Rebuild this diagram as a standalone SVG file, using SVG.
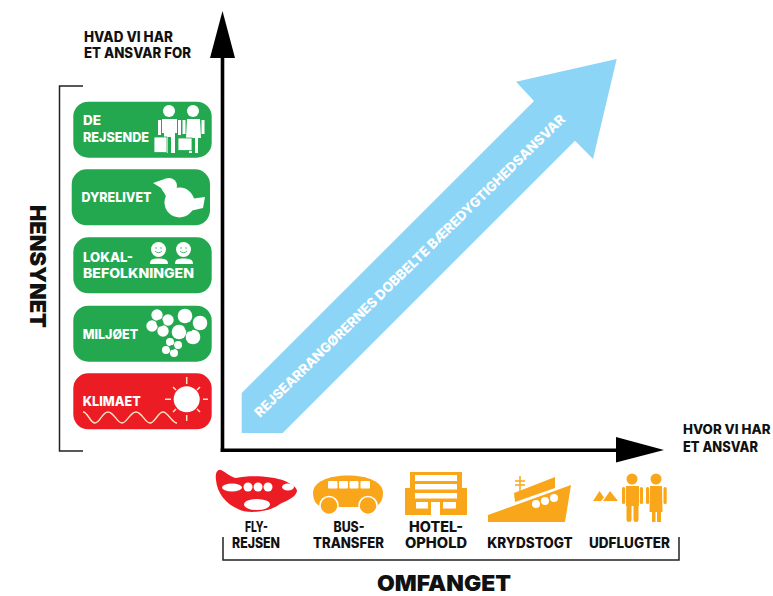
<svg xmlns="http://www.w3.org/2000/svg" width="773" height="596" viewBox="0 0 773 596">
<style>
text{font-family:"Inter","Open Sans","Liberation Sans",sans-serif;font-weight:800}
.k{fill:#111}
.w{fill:#fff}
.h{font-weight:900}
.s{font-size:14px}
.n{font-size:13.500px;fill:#fff}
.g{fill:#23a84f}
.r{fill:#ec1c24}
.o{fill:#faa61a}
.i{fill:#fff}
.c{text-anchor:middle;font-size:14px;fill:#111}
.br{fill:none;stroke:#222;stroke-width:1.500}
</style>
<rect width="773" height="596" fill="#fff"/>
<g id="trend-arrow">
<path d="M241.700 393L534 101L516 81.700L616.700 59L593 159L575 140.700L282.700 433H241.700Z" fill="#8dd5f7"/>
<text transform="translate(260 418) rotate(-44.2)" class="w" font-size="13.500" textLength="427" lengthAdjust="spacing">REJSEARRANGØRERNES DOBBELTE BÆREDYGTIGHEDSANSVAR</text>
</g>
<g id="connectors">
<path d="M222.500 452V50M220.500 450.300H625" stroke="#000" stroke-width="3.600" fill="none"/>
<path d="M222.500 11L235 58H210Z" fill="#000"/>
<path d="M664 450L616 437V462.500Z" fill="#000"/>
<path class="br" d="M83 86H59.500V451H83"/>
<path class="br" d="M223 537V560H679V537"/>
</g>
<g id="axis-labels">
<text class="k s" x="84" y="41.500" textLength="89" lengthAdjust="spacingAndGlyphs">HVAD VI HAR</text>
<text class="k s" x="84" y="57.500" textLength="107" lengthAdjust="spacingAndGlyphs">ET ANSVAR FOR</text>
<text class="k" font-size="13" x="683" y="434" textLength="87.500" lengthAdjust="spacingAndGlyphs">HVOR VI HAR</text>
<text class="k s" x="683" y="451.500" textLength="75" lengthAdjust="spacingAndGlyphs">ET ANSVAR</text>
<text class="k h" font-size="22" transform="translate(30 205) rotate(90)" textLength="123" lengthAdjust="spacingAndGlyphs">HENSYNET</text>
<text class="k h" font-size="22" x="377" y="591" textLength="134" lengthAdjust="spacingAndGlyphs">OMFANGET</text>
</g>
<g id="de-rejsende">
<rect class="g" x="73.300" y="101.700" width="138.400" height="56" rx="15"/>
<text class="n" x="83" y="125" textLength="18" lengthAdjust="spacingAndGlyphs">DE</text><text class="n" x="83" y="141.500" textLength="66" lengthAdjust="spacingAndGlyphs">REJSENDE</text>
<g class="i">
<circle cx="169" cy="111" r="6"/><path d="M162 119H177V133H175V153H171V137H168V153H164V133H162Z"/>
<rect x="158" y="120" width="3" height="15"/><rect x="178" y="120" width="3" height="15"/>
<circle cx="193" cy="111" r="6"/><path d="M187 119H200L201 138H198V153H195V138H192V153H189V138H186Z"/>
<rect x="182.500" y="120" width="3" height="14"/><rect x="201.500" y="120" width="3" height="14"/>
</g>
<rect class="i" x="154" y="137" width="13" height="15.500" stroke="#23a84f" stroke-width=".8"/>
<rect class="i" x="178" y="138" width="14" height="12.500" stroke="#23a84f" stroke-width=".8"/>
</g>
<g id="dyrelivet">
<rect class="g" x="71.700" y="169.300" width="138.300" height="56" rx="15"/>
<text class="n" x="81.500" y="201.700" textLength="70" lengthAdjust="spacingAndGlyphs">DYRELIVET</text>
<g class="i">
<circle cx="179.500" cy="202.500" r="15"/>
<circle cx="169" cy="186" r="8"/>
<path d="M153 183L166 178.500V191ZM162 189L176 188L190 197L168 200ZM190 199L205 197L203 208L190 211Z"/>
</g>
</g>
<g id="lokalbefolkningen">
<rect class="g" x="73.300" y="237.300" width="138.400" height="56" rx="15"/>
<text class="n" x="83" y="261.500" textLength="50" lengthAdjust="spacingAndGlyphs">LOKAL-</text><text class="n" x="83" y="278" textLength="111" lengthAdjust="spacingAndGlyphs">BEFOLKNINGEN</text>
<g class="i">
<circle cx="158.500" cy="249.500" r="7.500"/><path d="M150 264C150 259 153 258.500 158.500 258.500C164 258.500 168 259 168 264Z"/>
<circle cx="183.500" cy="249.500" r="7.500"/><path d="M175 264C175 259 178 258.500 183.500 258.500C189 258.500 193 259 193 264Z"/>
</g>
<path d="M155 251Q158.500 254.500 162 251M180 251Q183.500 254.500 187 251" fill="none" stroke="#23a84f" stroke-width=".8"/>
<g fill="#23a84f"><circle cx="156" cy="248" r=".7"/><circle cx="161" cy="248" r=".7"/><circle cx="181" cy="248" r=".7"/><circle cx="186" cy="248" r=".7"/></g>
</g>
<g id="miljoet">
<rect class="g" x="73.300" y="305.700" width="138.400" height="56" rx="15"/>
<text class="n" x="82.700" y="338.500" textLength="55.500" lengthAdjust="spacingAndGlyphs">MILJØET</text>
<g class="i">
<circle cx="157" cy="315" r="5.700"/><circle cx="168" cy="320" r="5.700"/><circle cx="152" cy="326" r="5.700"/><circle cx="163" cy="331" r="5.700"/>
<circle cx="185" cy="316" r="7.300"/><circle cx="200" cy="323" r="7.300"/><circle cx="179" cy="332" r="7.300"/><circle cx="193" cy="337" r="7.300"/>
<circle cx="170" cy="342" r="4"/><circle cx="178" cy="345" r="4"/><circle cx="166" cy="350" r="4"/><circle cx="174" cy="353" r="4"/>
</g>
<g fill="#23a84f"><circle cx="160" cy="323" r="3.500"/><circle cx="189" cy="327" r="4.500"/><circle cx="172" cy="347.500" r="2.500"/></g>
</g>
<g id="klimaet">
<rect class="r" x="73.300" y="373.300" width="138.400" height="56" rx="15"/>
<text class="n" x="82.700" y="406" textLength="58" lengthAdjust="spacingAndGlyphs">KLIMAET</text>
<circle class="i" cx="186.700" cy="399.300" r="13"/>
<path d="M186.700 377V384M186.700 415V421M165 399.300H171M203 399.300H208M173 387L176 390M200 387L197 390M173 412L176 409M200 412L197 409" stroke="#fde3c0" stroke-width="1.500" fill="none"/>
<path d="M83 412C88 412 90 423 95 423S102 412 108 412S117 423 122 423S130 412 136 412S145 423 150 423S158 412 163 412S172 423 177 423" fill="none" stroke="#fde3c0" stroke-width="1.400"/>
</g>
<g id="fly-rejsen">
<path class="r" d="M216 480C215 474 217 469 221 470C226 472 230 477 236 478C250 475 272 476 285 481C292 484 297 488 297 491C296 497 288 500 280 504C268 513 246 514 238 509C226 504 217 493 216 480Z"/>
<ellipse class="i" cx="232" cy="487.500" rx="10" ry="4"/>
<g class="i"><circle cx="248" cy="487" r="4.500"/><circle cx="258" cy="487" r="4.500"/><circle cx="268" cy="487" r="4.500"/></g>
<ellipse class="i" cx="288" cy="487" rx="6" ry="3.500"/>
<ellipse class="i" cx="257" cy="504.500" rx="13" ry="5.500"/>
<text class="c" x="256.500" y="531.700" textLength="23" lengthAdjust="spacingAndGlyphs">FLY-</text><text class="c" x="256" y="547.700" textLength="48" lengthAdjust="spacingAndGlyphs">REJSEN</text>
</g>
<g id="bus-transfer">
<path class="o" d="M313 493C313 482 328 475.500 348 475.500C368 475.500 383 482 383 493C383 501 379 506 373 507H323C317 506 313 501 313 493Z"/>
<g class="i"><rect x="328" y="481" width="9.500" height="7.500" rx="1"/><rect x="339" y="481" width="9" height="7.500" rx="1"/><rect x="349.500" y="481" width="9" height="7.500" rx="1"/><rect x="360.500" y="481" width="9.500" height="7.500" rx="1"/></g>
<circle class="o" cx="329" cy="505.500" r="9" stroke="#fff" stroke-width="1.500"/>
<circle class="o" cx="368" cy="505.500" r="9" stroke="#fff" stroke-width="1.500"/>
<text class="c" x="349" y="531.700" textLength="31" lengthAdjust="spacingAndGlyphs">BUS-</text><text class="c" x="348.500" y="547.700" textLength="71" lengthAdjust="spacingAndGlyphs">TRANSFER</text>
</g>
<g id="hotel-ophold">
<path class="o" d="M410 472H462V488H467V515H405V488H410Z"/>
<g class="i"><rect x="415" y="475" width="42" height="6"/><rect x="415" y="484" width="42" height="5.500"/><rect x="415" y="493" width="42" height="5.500"/><rect x="416" y="502" width="12" height="6.500"/><rect x="443" y="502" width="13" height="6.500"/><rect x="431" y="502" width="9" height="13"/></g>
<text class="c" x="436" y="531.700" textLength="54" lengthAdjust="spacingAndGlyphs">HOTEL-</text><text class="c" x="436" y="547.700" textLength="62" lengthAdjust="spacingAndGlyphs">OPHOLD</text>
</g>
<g id="krydstogt">
<path class="o" d="M488 522V515L571 485L565 522Z"/>
<path class="o" d="M514 493L555 477V488L515 502Z"/>
<path d="M520 476V494M515 481H525M515 485H525" stroke="#faa61a" stroke-width="1.500" fill="none"/>
<g class="i"><circle cx="536" cy="504" r="4"/><circle cx="545" cy="501" r="4"/><circle cx="554" cy="498" r="4"/></g>
<text class="c" x="530" y="547.700" textLength="85.500" lengthAdjust="spacingAndGlyphs">KRYDSTOGT</text>
</g>
<g id="udflugter">
<g class="o">
<path d="M593 501L599.500 491L604 497.500L601 501ZM603 501L610 491L618 501Z"/>
<circle cx="632" cy="479" r="5.500"/><path d="M626 486H639V506H638.500V520Q638.500 522 636 522T633.500 520V506H631.500V520Q631.500 522 629 522T626.500 520V506H626Z"/>
<rect x="622" y="487" width="3.200" height="17" rx="1.500"/><rect x="639.800" y="487" width="3.200" height="17" rx="1.500"/>
<circle cx="656" cy="479" r="5.500"/><path d="M650 486H662L662.500 512H661V522H657V512H655.500V522H652V512H649.500Z"/>
<rect x="646" y="487" width="3.200" height="17" rx="1.500"/><rect x="663.500" y="487" width="3.200" height="17" rx="1.500"/>
</g>
<text class="c" x="629.500" y="547.700" textLength="81" lengthAdjust="spacingAndGlyphs">UDFLUGTER</text>
</g>
</svg>
